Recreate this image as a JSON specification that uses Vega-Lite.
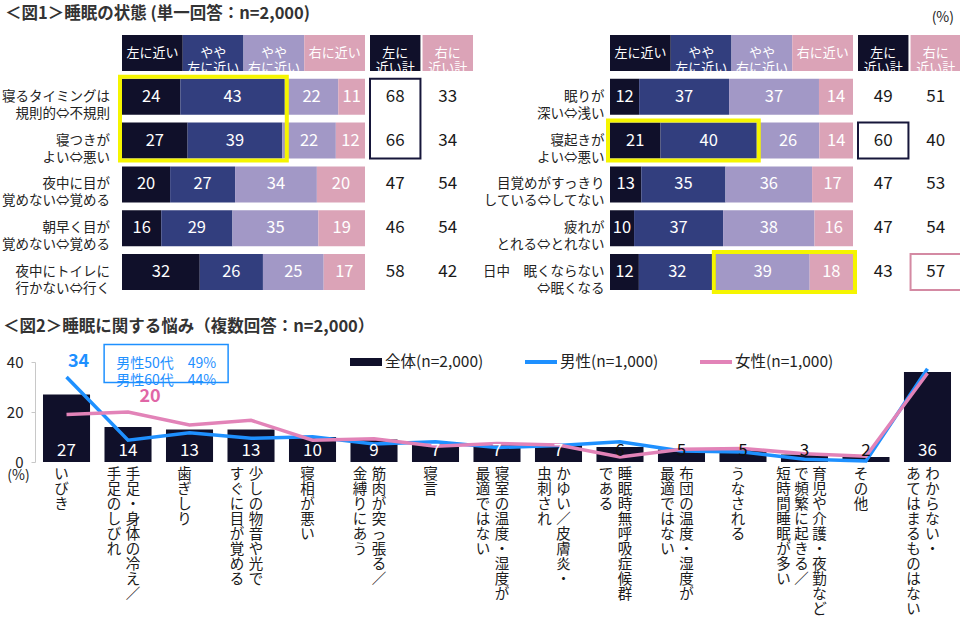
{
 "$schema": "https://vega.github.io/schema/vega-lite/v6.json",
 "background": "white",
 "padding": {"left": 0, "top": 5, "right": 0, "bottom": 0},
 "config": {
  "view": {"stroke": null},
  "font": "Noto Sans CJK JP",
  "text": {"font": "Noto Sans CJK JP"},
  "axis": {"labelFont": "Noto Sans CJK JP", "titleFont": "Noto Sans CJK JP"},
  "legend": {"labelFont": "Noto Sans CJK JP"},
  "title": {"font": "Noto Sans CJK JP"}
 },
 "datasets": {
  "barsL": [
   {"item": "寝るタイミングは\n規則的⇔不規則", "seg": "左に近い", "v": 24, "hl": "a"},
   {"item": "寝るタイミングは\n規則的⇔不規則", "seg": "やや左に近い", "v": 43, "hl": "a"},
   {"item": "寝るタイミングは\n規則的⇔不規則", "seg": "やや右に近い", "v": 22},
   {"item": "寝るタイミングは\n規則的⇔不規則", "seg": "右に近い", "v": 11},
   {"item": "寝つきが\nよい⇔悪い", "seg": "左に近い", "v": 27, "hl": "a"},
   {"item": "寝つきが\nよい⇔悪い", "seg": "やや左に近い", "v": 39, "hl": "a"},
   {"item": "寝つきが\nよい⇔悪い", "seg": "やや右に近い", "v": 22},
   {"item": "寝つきが\nよい⇔悪い", "seg": "右に近い", "v": 12},
   {"item": "夜中に目が\n覚めない⇔覚める", "seg": "左に近い", "v": 20},
   {"item": "夜中に目が\n覚めない⇔覚める", "seg": "やや左に近い", "v": 27},
   {"item": "夜中に目が\n覚めない⇔覚める", "seg": "やや右に近い", "v": 34},
   {"item": "夜中に目が\n覚めない⇔覚める", "seg": "右に近い", "v": 20},
   {"item": "朝早く目が\n覚めない⇔覚める", "seg": "左に近い", "v": 16},
   {"item": "朝早く目が\n覚めない⇔覚める", "seg": "やや左に近い", "v": 29},
   {"item": "朝早く目が\n覚めない⇔覚める", "seg": "やや右に近い", "v": 35},
   {"item": "朝早く目が\n覚めない⇔覚める", "seg": "右に近い", "v": 19},
   {"item": "夜中にトイレに\n行かない⇔行く", "seg": "左に近い", "v": 32},
   {"item": "夜中にトイレに\n行かない⇔行く", "seg": "やや左に近い", "v": 26},
   {"item": "夜中にトイレに\n行かない⇔行く", "seg": "やや右に近い", "v": 25},
   {"item": "夜中にトイレに\n行かない⇔行く", "seg": "右に近い", "v": 17}
  ],
  "sumsL": [
   {"item": "寝るタイミングは\n規則的⇔不規則", "side": "左に近い計", "v": 68, "hl": "a"},
   {"item": "寝るタイミングは\n規則的⇔不規則", "side": "右に近い計", "v": 33},
   {"item": "寝つきが\nよい⇔悪い", "side": "左に近い計", "v": 66, "hl": "a"},
   {"item": "寝つきが\nよい⇔悪い", "side": "右に近い計", "v": 34},
   {"item": "夜中に目が\n覚めない⇔覚める", "side": "左に近い計", "v": 47},
   {"item": "夜中に目が\n覚めない⇔覚める", "side": "右に近い計", "v": 54},
   {"item": "朝早く目が\n覚めない⇔覚める", "side": "左に近い計", "v": 46},
   {"item": "朝早く目が\n覚めない⇔覚める", "side": "右に近い計", "v": 54},
   {"item": "夜中にトイレに\n行かない⇔行く", "side": "左に近い計", "v": 58},
   {"item": "夜中にトイレに\n行かない⇔行く", "side": "右に近い計", "v": 42}
  ],
  "barsR": [
   {"item": "眠りが\n深い⇔浅い", "seg": "左に近い", "v": 12},
   {"item": "眠りが\n深い⇔浅い", "seg": "やや左に近い", "v": 37},
   {"item": "眠りが\n深い⇔浅い", "seg": "やや右に近い", "v": 37},
   {"item": "眠りが\n深い⇔浅い", "seg": "右に近い", "v": 14},
   {"item": "寝起きが\nよい⇔悪い", "seg": "左に近い", "v": 21, "hl": "a"},
   {"item": "寝起きが\nよい⇔悪い", "seg": "やや左に近い", "v": 40, "hl": "a"},
   {"item": "寝起きが\nよい⇔悪い", "seg": "やや右に近い", "v": 26},
   {"item": "寝起きが\nよい⇔悪い", "seg": "右に近い", "v": 14},
   {"item": "目覚めがすっきり\nしている⇔してない", "seg": "左に近い", "v": 13},
   {"item": "目覚めがすっきり\nしている⇔してない", "seg": "やや左に近い", "v": 35},
   {"item": "目覚めがすっきり\nしている⇔してない", "seg": "やや右に近い", "v": 36},
   {"item": "目覚めがすっきり\nしている⇔してない", "seg": "右に近い", "v": 17},
   {"item": "疲れが\nとれる⇔とれない", "seg": "左に近い", "v": 10},
   {"item": "疲れが\nとれる⇔とれない", "seg": "やや左に近い", "v": 37},
   {"item": "疲れが\nとれる⇔とれない", "seg": "やや右に近い", "v": 38},
   {"item": "疲れが\nとれる⇔とれない", "seg": "右に近い", "v": 16},
   {"item": "日中　眠くならない\n⇔眠くなる", "seg": "左に近い", "v": 12},
   {"item": "日中　眠くならない\n⇔眠くなる", "seg": "やや左に近い", "v": 32},
   {"item": "日中　眠くならない\n⇔眠くなる", "seg": "やや右に近い", "v": 39, "hl": "b"},
   {"item": "日中　眠くならない\n⇔眠くなる", "seg": "右に近い", "v": 18, "hl": "b"}
  ],
  "sumsR": [
   {"item": "眠りが\n深い⇔浅い", "side": "左に近い計", "v": 49},
   {"item": "眠りが\n深い⇔浅い", "side": "右に近い計", "v": 51},
   {"item": "寝起きが\nよい⇔悪い", "side": "左に近い計", "v": 60, "hl": "a"},
   {"item": "寝起きが\nよい⇔悪い", "side": "右に近い計", "v": 40},
   {"item": "目覚めがすっきり\nしている⇔してない", "side": "左に近い計", "v": 47},
   {"item": "目覚めがすっきり\nしている⇔してない", "side": "右に近い計", "v": 53},
   {"item": "疲れが\nとれる⇔とれない", "side": "左に近い計", "v": 47},
   {"item": "疲れが\nとれる⇔とれない", "side": "右に近い計", "v": 54},
   {"item": "日中　眠くならない\n⇔眠くなる", "side": "左に近い計", "v": 43},
   {"item": "日中　眠くならない\n⇔眠くなる", "side": "右に近い計", "v": 57, "hl": "b"}
  ],
  "heads": [
   {"seg": "左に近い", "label": "左に近い"},
   {"seg": "やや左に近い", "label": "やや\n左に近い"},
   {"seg": "やや右に近い", "label": "やや\n右に近い"},
   {"seg": "右に近い", "label": "右に近い"}
  ],
  "sumHeads": [
   {"seg": "左に近い計", "label": "左に\n近い計"},
   {"seg": "右に近い計", "label": "右に\n近い計"}
  ],
  "f2": [
   {"cat": "いびき", "v": 27, "c1": "いびき", "c2": "", "c3": ""},
   {"cat": "手足・身体の冷え／手足のしびれ", "v": 14, "c1": "手足・身体の冷え／", "c2": "手足のしびれ", "c3": ""},
   {"cat": "歯ぎしり", "v": 13, "c1": "歯ぎしり", "c2": "", "c3": ""},
   {"cat": "少しの物音や光ですぐに目が覚める", "v": 13, "c1": "少しの物音や光で", "c2": "すぐに目が覚める", "c3": ""},
   {"cat": "寝相が悪い", "v": 10, "c1": "寝相が悪い", "c2": "", "c3": ""},
   {"cat": "筋肉が突っ張る／金縛りにあう", "v": 9, "c1": "筋肉が突っ張る／", "c2": "金縛りにあう", "c3": ""},
   {"cat": "寝言", "v": 7, "c1": "寝言", "c2": "", "c3": ""},
   {"cat": "寝室の温度・湿度が最適ではない", "v": 7, "c1": "寝室の温度・湿度が", "c2": "最適ではない", "c3": ""},
   {"cat": "かゆい／皮膚炎・虫刺され", "v": 7, "c1": "かゆい／皮膚炎・", "c2": "虫刺され", "c3": ""},
   {"cat": "睡眠時無呼吸症候群である", "v": 6, "c1": "睡眠時無呼吸症候群", "c2": "である", "c3": ""},
   {"cat": "布団の温度・湿度が最適ではない", "v": 5, "c1": "布団の温度・湿度が", "c2": "最適ではない", "c3": ""},
   {"cat": "うなされる", "v": 5, "c1": "うなされる", "c2": "", "c3": ""},
   {"cat": "育児や介護・夜勤などで頻繁に起きる／短時間睡眠が多い", "v": 3, "c1": "育児や介護・夜勤など", "c2": "で頻繁に起きる／", "c3": "短時間睡眠が多い"},
   {"cat": "その他", "v": 2, "c1": "その他", "c2": "", "c3": ""},
   {"cat": "わからない・あてはまるものはない", "v": 36, "c1": "わからない・", "c2": "あてはまるものはない", "c3": ""}
  ],
  "f2lines": [
   {"cat": "いびき", "series": "男性(n=1,000)", "v": 34},
   {"cat": "手足・身体の冷え／手足のしびれ", "series": "男性(n=1,000)", "v": 8.7},
   {"cat": "歯ぎしり", "series": "男性(n=1,000)", "v": 11.7},
   {"cat": "少しの物音や光ですぐに目が覚める", "series": "男性(n=1,000)", "v": 9.5},
   {"cat": "寝相が悪い", "series": "男性(n=1,000)", "v": 10.1},
   {"cat": "筋肉が突っ張る／金縛りにあう", "series": "男性(n=1,000)", "v": 7.2},
   {"cat": "寝言", "series": "男性(n=1,000)", "v": 8.1},
   {"cat": "寝室の温度・湿度が最適ではない", "series": "男性(n=1,000)", "v": 5.8},
   {"cat": "かゆい／皮膚炎・虫刺され", "series": "男性(n=1,000)", "v": 6.6},
   {"cat": "睡眠時無呼吸症候群である", "series": "男性(n=1,000)", "v": 8.1},
   {"cat": "布団の温度・湿度が最適ではない", "series": "男性(n=1,000)", "v": 4.4},
   {"cat": "うなされる", "series": "男性(n=1,000)", "v": 4},
   {"cat": "育児や介護・夜勤などで頻繁に起きる／短時間睡眠が多い", "series": "男性(n=1,000)", "v": 1.1},
   {"cat": "その他", "series": "男性(n=1,000)", "v": 0.4},
   {"cat": "わからない・あてはまるものはない", "series": "男性(n=1,000)", "v": 37.3},
   {"cat": "いびき", "series": "女性(n=1,000)", "v": 19},
   {"cat": "手足・身体の冷え／手足のしびれ", "series": "女性(n=1,000)", "v": 20},
   {"cat": "歯ぎしり", "series": "女性(n=1,000)", "v": 14.8},
   {"cat": "少しの物音や光ですぐに目が覚める", "series": "女性(n=1,000)", "v": 16.7},
   {"cat": "寝相が悪い", "series": "女性(n=1,000)", "v": 8.7},
   {"cat": "筋肉が突っ張る／金縛りにあう", "series": "女性(n=1,000)", "v": 9.3},
   {"cat": "寝言", "series": "女性(n=1,000)", "v": 6.3},
   {"cat": "寝室の温度・湿度が最適ではない", "series": "女性(n=1,000)", "v": 7.4},
   {"cat": "かゆい／皮膚炎・虫刺され", "series": "女性(n=1,000)", "v": 6.8},
   {"cat": "睡眠時無呼吸症候群である", "series": "女性(n=1,000)", "v": 2},
   {"cat": "布団の温度・湿度が最適ではない", "series": "女性(n=1,000)", "v": 5.1},
   {"cat": "うなされる", "series": "女性(n=1,000)", "v": 5.4},
   {"cat": "育児や介護・夜勤などで頻繁に起きる／短時間睡眠が多い", "series": "女性(n=1,000)", "v": 3.3},
   {"cat": "その他", "series": "女性(n=1,000)", "v": 2.3},
   {"cat": "わからない・あてはまるものはない", "series": "女性(n=1,000)", "v": 35.5}
  ]
 },
 "resolve": {"legend": {"color": "independent"}, "scale": {"color": "independent"}},
 "concat": [
  {
   "hconcat": [
    {
     "width": 447,
     "height": 255,
     "title": {"text": "＜図1＞睡眠の状態 (単一回答：n=2,000)", "anchor": "start", "frame": "bounds", "fontSize": 16.5, "fontWeight": "bold", "color": "#333333", "offset": 13, "dx": 3},
     "resolve": {"scale": {"x": "independent"}},
     "layer": [
      {
       "data": {"name": "barsL"},
       "transform": [
        {"window": [{"op": "row_number", "as": "rn"}]},
        {"calculate": "indexof(['左に近い','やや左に近い','やや右に近い','右に近い'], datum.seg)", "as": "ord"},
        {"stack": "v", "groupby": ["item"], "sort": [{"field": "ord", "order": "ascending"}], "offset": "normalize", "as": ["x0", "x1"]},
        {"calculate": "(datum.x0 + datum.x1) / 2", "as": "xm"}
       ],
       "layer": [
        {
         "mark": {"type": "bar"},
         "encoding": {
          "x": {"field": "x0", "type": "quantitative", "scale": {"domain": [0, 1], "range": [87, 330], "nice": false, "zero": false}, "axis": null},
          "x2": {"field": "x1"},
          "y": {"field": "item", "type": "nominal", "title": null, "axis": null,
                "scale": {"domain": ["header", "寝るタイミングは\n規則的⇔不規則", "寝つきが\nよい⇔悪い", "夜中に目が\n覚めない⇔覚める", "朝早く目が\n覚めない⇔覚める", "夜中にトイレに\n行かない⇔行く"], "paddingInner": 0.177, "paddingOuter": 0}},
          "fill": {"field": "seg", "type": "nominal", "legend": null,
                   "scale": {"domain": ["左に近い", "やや左に近い", "やや右に近い", "右に近い", "左に近い計", "右に近い計"], "range": ["#10102a", "#323e7e", "#a298c6", "#dba3b7", "#10102a", "#dba3b7"]}}
         }
        },
        {
         "mark": {"type": "text", "color": "white", "fontSize": 16.5},
         "encoding": {
          "x": {"field": "xm", "type": "quantitative"},
          "y": {"field": "item", "type": "nominal", "title": null},
          "text": {"field": "v", "type": "quantitative"}
         }
        },
        {
         "transform": [{"filter": "datum.seg === '左に近い'"}, {"calculate": "split(datum.item, '\\n')", "as": "lab"}],
         "mark": {"type": "text", "align": "right", "baseline": "middle", "dx": -12, "fontSize": 13.5, "lineHeight": 17, "color": "#222222"},
         "encoding": {
          "x": {"datum": 0, "type": "quantitative"},
          "y": {"field": "item", "type": "nominal", "title": null},
          "text": {"field": "lab", "type": "nominal"}
         }
        },
        {
         "transform": [
          {"filter": "datum.hl"},
          {"aggregate": [{"op": "min", "field": "x0", "as": "hx0"}, {"op": "max", "field": "x1", "as": "hx1"}, {"op": "argmin", "field": "rn", "as": "first"}, {"op": "argmax", "field": "rn", "as": "last"}], "groupby": ["hl"]}
         ],
         "mark": {"type": "rect", "filled": false, "color": "#f5f500", "strokeWidth": 4, "xOffset": -2, "x2Offset": 2, "yOffset": -2, "y2Offset": 2},
         "encoding": {
          "x": {"field": "hx0", "type": "quantitative"},
          "x2": {"field": "hx1"},
          "y": {"field": "first.item", "type": "nominal", "bandPosition": 0, "title": null},
          "y2": {"field": "last.item", "bandPosition": 1}
         }
        }
       ]
      },
      {
       "data": {"name": "heads"},
       "layer": [
        {
         "mark": {"type": "rect"},
         "encoding": {
          "x": {"field": "seg", "type": "nominal", "axis": null, "scale": {"domain": ["左に近い", "やや左に近い", "やや右に近い", "右に近い"], "range": [87, 330], "paddingInner": 0, "paddingOuter": 0}},
          "y": {"datum": "header", "type": "nominal", "title": null},
          "fill": {"field": "seg", "type": "nominal", "legend": null}
         }
        },
        {
         "mark": {"type": "text", "color": "white", "fontSize": 13, "lineHeight": 15, "lineBreak": "\n"},
         "encoding": {
          "x": {"field": "seg", "type": "nominal", "axis": null},
          "y": {"datum": "header", "type": "nominal", "title": null},
          "text": {"field": "label", "type": "nominal"}
         }
        }
       ]
      },
      {
       "layer": [
        {
         "data": {"name": "sumHeads"},
         "mark": {"type": "rect"},
         "encoding": {
          "x": {"field": "seg", "type": "nominal", "axis": null, "scale": {"domain": ["左に近い計", "右に近い計"], "range": [335, 438], "paddingInner": 0.04, "paddingOuter": 0}},
          "y": {"datum": "header", "type": "nominal", "title": null},
          "fill": {"field": "seg", "type": "nominal", "legend": null}
         }
        },
        {
         "data": {"name": "sumHeads"},
         "mark": {"type": "text", "color": "white", "fontSize": 13, "lineHeight": 15, "lineBreak": "\n"},
         "encoding": {
          "x": {"field": "seg", "type": "nominal", "axis": null},
          "y": {"datum": "header", "type": "nominal", "title": null},
          "text": {"field": "label", "type": "nominal"}
         }
        },
        {
         "data": {"name": "sumsL"},
         "mark": {"type": "text", "color": "#1a1a1a", "fontSize": 17},
         "encoding": {
          "x": {"field": "side", "type": "nominal", "axis": null},
          "y": {"field": "item", "type": "nominal", "title": null},
          "text": {"field": "v", "type": "quantitative"}
         }
        },
        {
         "data": {"name": "sumsL"},
         "transform": [
          {"window": [{"op": "row_number", "as": "rn"}]},
          {"filter": "datum.hl"},
          {"aggregate": [{"op": "argmin", "field": "rn", "as": "first"}, {"op": "argmax", "field": "rn", "as": "last"}], "groupby": ["hl", "side"]}
         ],
         "mark": {"type": "rect", "fill": null, "strokeWidth": 2},
         "encoding": {
          "x": {"field": "side", "type": "nominal", "axis": null},
          "y": {"field": "first.item", "type": "nominal", "bandPosition": 0, "title": null},
          "y2": {"field": "last.item", "bandPosition": 1},
          "stroke": {"field": "side", "type": "nominal", "legend": null, "scale": {"domain": ["左に近い計", "右に近い計"], "range": ["#16163a", "#d48aa3"]}}
         }
        }
       ]
      }
     ]
    },
    {
     "width": 352,
     "height": 255,
     "title": {"text": "(%)", "anchor": "end", "frame": "group", "fontSize": 14, "fontWeight": "normal", "color": "#222222", "offset": 10, "dx": -8},
     "resolve": {"scale": {"x": "independent"}},
     "layer": [
      {
       "data": {"name": "barsR"},
       "transform": [
        {"window": [{"op": "row_number", "as": "rn"}]},
        {"calculate": "indexof(['左に近い','やや左に近い','やや右に近い','右に近い'], datum.seg)", "as": "ord"},
        {"stack": "v", "groupby": ["item"], "sort": [{"field": "ord", "order": "ascending"}], "offset": "normalize", "as": ["x0", "x1"]},
        {"calculate": "(datum.x0 + datum.x1) / 2", "as": "xm"}
       ],
       "layer": [
        {
         "mark": {"type": "bar"},
         "encoding": {
          "x": {"field": "x0", "type": "quantitative", "scale": {"domain": [0, 1], "range": [0, 243], "nice": false, "zero": false}, "axis": null},
          "x2": {"field": "x1"},
          "y": {"field": "item", "type": "nominal", "title": null,
                "scale": {"domain": ["header", "眠りが\n深い⇔浅い", "寝起きが\nよい⇔悪い", "目覚めがすっきり\nしている⇔してない", "疲れが\nとれる⇔とれない", "日中　眠くならない\n⇔眠くなる"], "paddingInner": 0.177, "paddingOuter": 0},
                "axis": {"labelExpr": "datum.value === 'header' ? '' : split(datum.label, '\\n')", "ticks": false, "domain": false, "labelPadding": 6, "labelFontSize": 13.5, "labelLineHeight": 17, "labelColor": "#222222", "minExtent": 121, "maxExtent": 121, "title": null}},
          "fill": {"field": "seg", "type": "nominal", "legend": null,
                   "scale": {"domain": ["左に近い", "やや左に近い", "やや右に近い", "右に近い", "左に近い計", "右に近い計"], "range": ["#10102a", "#323e7e", "#a298c6", "#dba3b7", "#10102a", "#dba3b7"]}}
         }
        },
        {
         "mark": {"type": "text", "color": "white", "fontSize": 16.5},
         "encoding": {
          "x": {"field": "xm", "type": "quantitative"},
          "y": {"field": "item", "type": "nominal", "title": null},
          "text": {"field": "v", "type": "quantitative"}
         }
        },
        {
         "transform": [
          {"filter": "datum.hl"},
          {"aggregate": [{"op": "min", "field": "x0", "as": "hx0"}, {"op": "max", "field": "x1", "as": "hx1"}, {"op": "argmin", "field": "rn", "as": "first"}, {"op": "argmax", "field": "rn", "as": "last"}], "groupby": ["hl"]}
         ],
         "mark": {"type": "rect", "filled": false, "color": "#f5f500", "strokeWidth": 4, "xOffset": -2, "x2Offset": 2, "yOffset": -2, "y2Offset": 2},
         "encoding": {
          "x": {"field": "hx0", "type": "quantitative"},
          "x2": {"field": "hx1"},
          "y": {"field": "first.item", "type": "nominal", "bandPosition": 0, "title": null},
          "y2": {"field": "last.item", "bandPosition": 1}
         }
        }
       ]
      },
      {
       "data": {"name": "heads"},
       "layer": [
        {
         "mark": {"type": "rect"},
         "encoding": {
          "x": {"field": "seg", "type": "nominal", "axis": null, "scale": {"domain": ["左に近い", "やや左に近い", "やや右に近い", "右に近い"], "range": [0, 243], "paddingInner": 0, "paddingOuter": 0}},
          "y": {"datum": "header", "type": "nominal", "title": null},
          "fill": {"field": "seg", "type": "nominal", "legend": null}
         }
        },
        {
         "mark": {"type": "text", "color": "white", "fontSize": 13, "lineHeight": 15, "lineBreak": "\n"},
         "encoding": {
          "x": {"field": "seg", "type": "nominal", "axis": null},
          "y": {"datum": "header", "type": "nominal", "title": null},
          "text": {"field": "label", "type": "nominal"}
         }
        }
       ]
      },
      {
       "layer": [
        {
         "data": {"name": "sumHeads"},
         "mark": {"type": "rect"},
         "encoding": {
          "x": {"field": "seg", "type": "nominal", "axis": null, "scale": {"domain": ["左に近い計", "右に近い計"], "range": [248, 351], "paddingInner": 0.04, "paddingOuter": 0}},
          "y": {"datum": "header", "type": "nominal", "title": null},
          "fill": {"field": "seg", "type": "nominal", "legend": null}
         }
        },
        {
         "data": {"name": "sumHeads"},
         "mark": {"type": "text", "color": "white", "fontSize": 13, "lineHeight": 15, "lineBreak": "\n"},
         "encoding": {
          "x": {"field": "seg", "type": "nominal", "axis": null},
          "y": {"datum": "header", "type": "nominal", "title": null},
          "text": {"field": "label", "type": "nominal"}
         }
        },
        {
         "data": {"name": "sumsR"},
         "mark": {"type": "text", "color": "#1a1a1a", "fontSize": 17},
         "encoding": {
          "x": {"field": "side", "type": "nominal", "axis": null},
          "y": {"field": "item", "type": "nominal", "title": null},
          "text": {"field": "v", "type": "quantitative"}
         }
        },
        {
         "data": {"name": "sumsR"},
         "transform": [
          {"window": [{"op": "row_number", "as": "rn"}]},
          {"filter": "datum.hl"},
          {"aggregate": [{"op": "argmin", "field": "rn", "as": "first"}, {"op": "argmax", "field": "rn", "as": "last"}], "groupby": ["hl", "side"]}
         ],
         "mark": {"type": "rect", "fill": null, "strokeWidth": 2},
         "encoding": {
          "x": {"field": "side", "type": "nominal", "axis": null},
          "y": {"field": "first.item", "type": "nominal", "bandPosition": 0, "title": null},
          "y2": {"field": "last.item", "bandPosition": 1},
          "stroke": {"field": "side", "type": "nominal", "legend": null, "scale": {"domain": ["左に近い計", "右に近い計"], "range": ["#16163a", "#d48aa3"]}}
         }
        }
       ]
      }
     ]
    }
   ],
   "spacing": 0
  },
  {
   "width": 924,
   "height": 100,
   "title": {"text": "＜図2＞睡眠に関する悩み（複数回答：n=2,000）", "anchor": "start", "frame": "bounds", "fontSize": 16.5, "fontWeight": "bold", "color": "#333333", "offset": 6, "dx": 3},
   "resolve": {"scale": {"x": "independent"}},
   "layer": [
    {
     "layer": [
      {
       "data": {"name": "f2"},
       "mark": {"type": "bar"},
       "encoding": {
        "x": {"field": "cat", "type": "nominal", "sort": null, "axis": null,
              "scale": {"domain": ["いびき", "手足・身体の冷え／手足のしびれ", "歯ぎしり", "少しの物音や光ですぐに目が覚める", "寝相が悪い", "筋肉が突っ張る／金縛りにあう", "寝言", "寝室の温度・湿度が最適ではない", "かゆい／皮膚炎・虫刺され", "睡眠時無呼吸症候群である", "布団の温度・湿度が最適ではない", "うなされる", "育児や介護・夜勤などで頻繁に起きる／短時間睡眠が多い", "その他", "わからない・あてはまるものはない"], "paddingInner": 0.235, "paddingOuter": 0.13}},
        "y": {"field": "v", "type": "quantitative", "scale": {"domain": [0, 40], "nice": false},
              "axis": {"values": [0, 20, 40], "grid": false, "labelFontSize": 15, "labelColor": "#222222", "labelPadding": 8, "domainColor": "#c8c8c8", "tickColor": "#c8c8c8", "tickSize": 4, "title": "(%)", "titleAngle": 0, "titleX": -17, "titleY": 113, "titleAlign": "center", "titleBaseline": "middle", "titleFontWeight": "normal", "titleFontSize": 14, "titleColor": "#222222", "minExtent": 35, "maxExtent": 35}},
        "color": {"datum": "全体(n=2,000)", "type": "nominal", "legend": null,
                  "scale": {"domain": ["全体(n=2,000)", "男性(n=1,000)", "女性(n=1,000)"], "range": ["#10102a", "#1e90ff", "#e283b8"]}}
       }
      },
      {
       "data": {"name": "f2lines"},
       "transform": [{"filter": "datum.series === '男性(n=1,000)'"}],
       "mark": {"type": "line", "strokeWidth": 3.5},
       "encoding": {
        "x": {"field": "cat", "type": "nominal", "sort": null},
        "y": {"field": "v", "type": "quantitative"},
        "color": {"field": "series", "type": "nominal", "legend": null}
       }
      },
      {
       "data": {"name": "f2lines"},
       "transform": [{"filter": "datum.series === '女性(n=1,000)'"}],
       "mark": {"type": "line", "strokeWidth": 3.5},
       "encoding": {
        "x": {"field": "cat", "type": "nominal", "sort": null},
        "y": {"field": "v", "type": "quantitative"},
        "color": {"field": "series", "type": "nominal", "legend": null}
       }
      },
      {
       "data": {"name": "f2"},
       "mark": {"type": "text", "baseline": "bottom", "dy": -2, "fontSize": 17},
       "encoding": {
        "x": {"field": "cat", "type": "nominal", "sort": null},
        "y": {"datum": 0, "type": "quantitative"},
        "text": {"field": "v", "type": "quantitative"},
        "fill": {"condition": {"test": "datum.v >= 7", "value": "white"}, "value": "#111111"}
       }
      },
      {
       "data": {"name": "f2lines"},
       "transform": [{"filter": "datum.series === '男性(n=1,000)' && datum.cat === 'いびき'"}],
       "mark": {"type": "text", "fontSize": 18, "fontWeight": "bold", "fill": "#1e90ff", "dx": 12, "dy": -15},
       "encoding": {
        "x": {"field": "cat", "type": "nominal", "sort": null},
        "y": {"field": "v", "type": "quantitative"},
        "text": {"field": "v", "type": "quantitative", "format": ".0f"}
       }
      },
      {
       "data": {"name": "f2lines"},
       "transform": [{"filter": "datum.series === '女性(n=1,000)' && datum.cat === '手足・身体の冷え／手足のしびれ'"}],
       "mark": {"type": "text", "fontSize": 18, "fontWeight": "bold", "fill": "#e066a6", "dx": 22, "dy": -15},
       "encoding": {
        "x": {"field": "cat", "type": "nominal", "sort": null},
        "y": {"field": "v", "type": "quantitative"},
        "text": {"field": "v", "type": "quantitative", "format": ".0f"}
       }
      },
      {
       "data": {"values": [{"note": "男性50代　49%\n男性60代　44%"}]},
       "mark": {"type": "point", "shape": "M-1,-0.3065H1V0.3065H-1Z", "size": 15376, "filled": true, "fill": "white", "stroke": "#1e90ff", "strokeWidth": 1.5, "opacity": 1},
       "encoding": {
        "x": {"datum": "手足・身体の冷え／手足のしびれ", "type": "nominal", "bandPosition": 1.31},
        "y": {"datum": 39.4, "type": "quantitative"}
       }
      },
      {
       "data": {"values": [{"note": "男性50代　49%\n男性60代　44%"}]},
       "mark": {"type": "text", "fontSize": 14, "lineHeight": 17, "lineBreak": "\n", "fill": "#1e90ff"},
       "encoding": {
        "x": {"datum": "手足・身体の冷え／手足のしびれ", "type": "nominal", "bandPosition": 1.31},
        "y": {"datum": 39.4, "type": "quantitative"},
        "text": {"field": "note", "type": "nominal"}
       }
      },
      {
       "data": {"name": "f2"},
       "transform": [{"filter": "datum.c2 === ''"}, {"calculate": "split(datum.c1, '')", "as": "t1"}],
       "mark": {"type": "text", "baseline": "top", "fontSize": 14.5, "lineHeight": 15, "dy": 6, "dx": -5, "fill": "#1a1a1a"},
       "encoding": {"x": {"field": "cat", "type": "nominal", "sort": null}, "y": {"datum": 0, "type": "quantitative"}, "text": {"field": "t1", "type": "nominal"}}
      },
      {
       "data": {"name": "f2"},
       "transform": [{"filter": "datum.c2 !== '' && datum.c3 === ''"}, {"calculate": "split(datum.c1, '')", "as": "t1"}],
       "mark": {"type": "text", "baseline": "top", "fontSize": 14.5, "lineHeight": 15, "dy": 6, "dx": 5, "fill": "#1a1a1a"},
       "encoding": {"x": {"field": "cat", "type": "nominal", "sort": null}, "y": {"datum": 0, "type": "quantitative"}, "text": {"field": "t1", "type": "nominal"}}
      },
      {
       "data": {"name": "f2"},
       "transform": [{"filter": "datum.c2 !== '' && datum.c3 === ''"}, {"calculate": "split(datum.c2, '')", "as": "t2"}],
       "mark": {"type": "text", "baseline": "top", "fontSize": 14.5, "lineHeight": 15, "dy": 6, "dx": -14, "fill": "#1a1a1a"},
       "encoding": {"x": {"field": "cat", "type": "nominal", "sort": null}, "y": {"datum": 0, "type": "quantitative"}, "text": {"field": "t2", "type": "nominal"}}
      },
      {
       "data": {"name": "f2"},
       "transform": [{"filter": "datum.c3 !== ''"}, {"calculate": "split(datum.c1, '')", "as": "t1"}],
       "mark": {"type": "text", "baseline": "top", "fontSize": 14.5, "lineHeight": 15, "dy": 6, "dx": 15, "fill": "#1a1a1a"},
       "encoding": {"x": {"field": "cat", "type": "nominal", "sort": null}, "y": {"datum": 0, "type": "quantitative"}, "text": {"field": "t1", "type": "nominal"}}
      },
      {
       "data": {"name": "f2"},
       "transform": [{"filter": "datum.c3 !== ''"}, {"calculate": "split(datum.c2, '')", "as": "t2"}],
       "mark": {"type": "text", "baseline": "top", "fontSize": 14.5, "lineHeight": 15, "dy": 6, "dx": -3, "fill": "#1a1a1a"},
       "encoding": {"x": {"field": "cat", "type": "nominal", "sort": null}, "y": {"datum": 0, "type": "quantitative"}, "text": {"field": "t2", "type": "nominal"}}
      },
      {
       "data": {"name": "f2"},
       "transform": [{"filter": "datum.c3 !== ''"}, {"calculate": "split(datum.c3, '')", "as": "t3"}],
       "mark": {"type": "text", "baseline": "top", "fontSize": 14.5, "lineHeight": 15, "dy": 6, "dx": -21, "fill": "#1a1a1a"},
       "encoding": {"x": {"field": "cat", "type": "nominal", "sort": null}, "y": {"datum": 0, "type": "quantitative"}, "text": {"field": "t3", "type": "nominal"}}
      }
     ]
    },
    {
     "data": {"values": [{"series": "全体(n=2,000)"}, {"series": "男性(n=1,000)"}, {"series": "女性(n=1,000)"}]},
     "layer": [
      {
       "mark": {"type": "point", "filled": true, "opacity": 1, "size": 1024, "strokeWidth": 0},
       "encoding": {
        "x": {"field": "series", "type": "nominal", "axis": null, "sort": null,
              "scale": {"domain": ["全体(n=2,000)", "男性(n=1,000)", "女性(n=1,000)"], "range": [227.5, 752.5], "paddingInner": 0, "paddingOuter": 0}},
        "y": {"datum": 40, "type": "quantitative"},
        "color": {"field": "series", "type": "nominal", "legend": null},
        "shape": {"field": "series", "type": "nominal", "legend": null,
                  "scale": {"domain": ["全体(n=2,000)", "男性(n=1,000)", "女性(n=1,000)"], "range": ["M0,-0.25H2V0.25H0Z", "M0,-0.125H2V0.125H0Z", "M0,-0.125H2V0.125H0Z"]}}
       }
      },
      {
       "mark": {"type": "text", "align": "left", "baseline": "middle", "dx": 35, "fontSize": 15.5, "fill": "#222222"},
       "encoding": {
        "x": {"field": "series", "type": "nominal", "sort": null},
        "y": {"datum": 40, "type": "quantitative"},
        "text": {"field": "series", "type": "nominal"}
       }
      }
     ]
    }
   ]
  }
 ],
 "columns": 1,
 "spacing": 22
}
